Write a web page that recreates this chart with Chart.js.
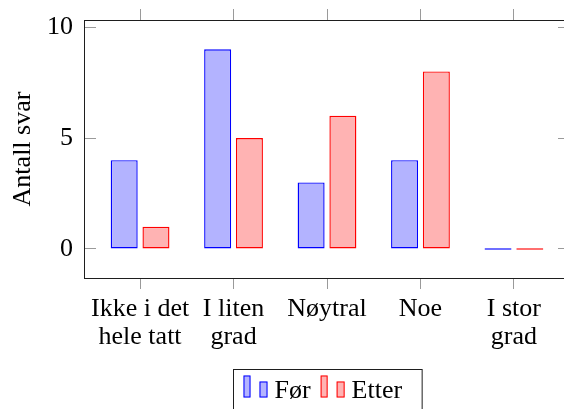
<!DOCTYPE html>
<html>
<head>
<meta charset="utf-8">
<script src="https://cdn.jsdelivr.net/npm/chart.js@4/dist/chart.umd.min.js"></script>
<style>
  html, body { margin: 0; padding: 0; background: #fff; overflow: hidden; }
  #wrap { width: 600px; height: 409px; }
</style>
</head>
<body>
<div id="wrap"><canvas id="myChart"></canvas></div>
<script>
// answers per category, before and after
const categories = [["Ikke i det", "hele tatt"], ["I liten", "grad"], ["Nøytral"], ["Noe"], ["I stor", "grad"]];
const seriesNames = ["Før", "Etter"];
const forValues = [4, 9, 3, 4, 0];
const etterValues = [1, 5, 6, 8, 0];
const yTicks = [0, 5, 10];
const yTitle = "Antall svar";

const FONT = "'Liberation Serif', 'Times New Roman', serif";
const blue = "#0000ff", blueFill = "#b3b3ff";
const red = "#ff0000", redFill = "#ffb3b3";
const frameColor = "#1e1e1e";
const tickColor = "#9a9a9a";

function points(values) {
    return values.map(function (v, i) { return { x: i + 1, y: v }; });
}

function catTicks(scale) {
    scale.ticks = categories.map(function (c, i) { return { value: i + 1 }; });
}

function valueTicks(scale) {
    scale.ticks = yTicks.map(function (v) { return { value: v }; });
}

// fixed axis sizes, no extra room for overflowing labels
function fixSize(w, h) {
    return function (s) {
        if (w !== null) s.width = w;
        if (h !== null) s.height = h;
        s.paddingTop = 0; s.paddingBottom = 0;
        s.paddingLeft = 0; s.paddingRight = 0;
    };
}

// boxed legend under the plot, with the little two-bar icons
const legendBox = {
    id: "legendBox",
    afterDraw(chart) {
        const ctx = chart.ctx;
        const area = chart.chartArea;
        const iconW = 24, gapIcon = 7, gapItem = 10, padL = 10, padR = 20;
        ctx.save();
        ctx.font = "26px " + FONT;
        let widths = chart.data.datasets.map(function (ds) { return ctx.measureText(ds.label).width; });
        let inner = 0;
        widths.forEach(function (w, i) { inner += iconW + gapIcon + w + (i ? gapItem : 0); });
        const boxW = inner + padL + padR;
        const left = Math.round((area.left + area.right) / 2 - boxW / 2) + 0.5;
        const top = Math.round(area.bottom + 91) + 0.5;
        const base = top + 28;

        ctx.strokeStyle = frameColor;
        ctx.lineWidth = 1;
        ctx.strokeRect(left, top, boxW, 45);

        let x = left + padL;
        chart.data.datasets.forEach(function (ds, i) {
            ctx.fillStyle = ds.backgroundColor;
            ctx.strokeStyle = ds.borderColor;
            ctx.fillRect(x, base - 22, 7, 22);
            ctx.strokeRect(x + 0.5, base - 21.5, 6, 21);
            ctx.fillRect(x + 16, base - 16, 8, 16);
            ctx.strokeRect(x + 16.5, base - 15.5, 7, 15);
            x += iconW + gapIcon;
            ctx.fillStyle = "#000";
            ctx.textBaseline = "alphabetic";
            ctx.fillText(ds.label, x, base);
            x += widths[i] + gapItem;
        });
        ctx.restore();
    }
};

new Chart("myChart", {
    type: "bar",
    data: {
        datasets: [{
            label: seriesNames[0],
            data: points(forValues),
            backgroundColor: blueFill,
            borderColor: blue,
            borderWidth: 1.4,
            borderSkipped: false,
            minBarLength: 1.5
        }, {
            label: seriesNames[1],
            data: points(etterValues),
            backgroundColor: redFill,
            borderColor: red,
            borderWidth: 1.4,
            borderSkipped: false,
            minBarLength: 1.5
        }]
    },
    options: {
        responsive: true,
        maintainAspectRatio: false,
        animation: false,
        categoryPercentage: 0.68,
        barPercentage: 0.85,
        layout: { padding: { left: 0, top: 20, right: 30, bottom: 0 } },
        plugins: { legend: { display: false }, tooltip: { enabled: false } },
        scales: {
            x: {
                type: "linear",
                position: "bottom",
                offset: false,
                min: 0.4,
                max: 5.6,
                afterBuildTicks: catTicks,
                afterFit: fixSize(null, 131),
                grid: { offset: false, drawOnChartArea: false, tickLength: 11, tickColor: tickColor },
                border: { color: frameColor, width: 1 },
                ticks: {
                    autoSkip: false,
                    maxRotation: 0,
                    padding: 7,
                    color: "#000",
                    font: { family: FONT, size: 26, lineHeight: 1.05 },
                    callback: function (v) { return categories[v - 1]; }
                }
            },
            x2: {
                type: "linear",
                position: "top",
                offset: false,
                min: 0.4,
                max: 5.6,
                afterBuildTicks: catTicks,
                afterFit: fixSize(null, 0),
                grid: { offset: false, drawOnChartArea: false, tickLength: 11, tickColor: tickColor },
                border: { color: frameColor, width: 1 },
                ticks: { display: false }
            },
            y: {
                min: -1.31,
                max: 10.32,
                afterBuildTicks: valueTicks,
                afterFit: fixSize(84, null),
                grid: { drawOnChartArea: false, tickLength: -12, tickColor: tickColor },
                border: { color: frameColor, width: 1 },
                ticks: { padding: 23, color: "#000", font: { family: FONT, size: 26 } },
                title: {
                    display: true,
                    text: yTitle,
                    color: "#000",
                    font: { family: FONT, size: 26 },
                    padding: { top: 8, bottom: 0 }
                }
            },
            y2: {
                position: "right",
                min: -1.31,
                max: 10.32,
                afterBuildTicks: valueTicks,
                afterFit: fixSize(0, null),
                grid: { drawOnChartArea: false, tickLength: -12, tickColor: tickColor },
                border: { color: frameColor, width: 1 },
                ticks: { display: false }
            }
        }
    },
    plugins: [legendBox]
});
</script>
</body>
</html>
